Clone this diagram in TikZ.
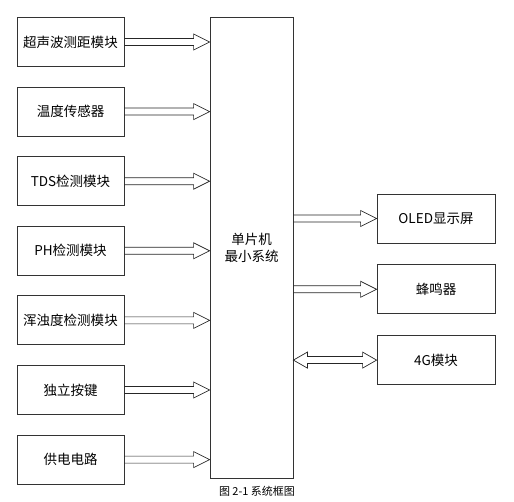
\documentclass[tikz,border=0pt]{standalone}
\usepackage{fontspec}
\setmainfont{Noto Sans CJK SC}
\usepackage{tikz}
\usetikzlibrary{calc,positioning}
\tikzset{%
	module/.style   = {draw=black!80, line width=0.8pt, rectangle, minimum width=107pt, minimum height=49pt, inner sep=0pt, font=\fontsize{13.5}{16}\selectfont},
	outmod/.style   = {module, minimum width=118pt}, % Output
	mcu/.style      = {draw=black!80, line width=0.8pt, rectangle, minimum width=83pt, minimum height=461pt, align=center, font=\fontsize{13.5}{17}\selectfont},
	fat/.style      = {draw=black!85, line width=0.7pt, line join=miter},
}
% hollow block arrow, left to right
\newcommand{\fatarrow}[2]{%
	\draw[fat] let \p1=(#1), \p2=(#2) in
		(\x1,\y1+3.5pt) -- (\x2-16pt,\y1+3.5pt) -- (\x2-16pt,\y1+8pt) -- (\x2,\y1)
		-- (\x2-16pt,\y1-8pt) -- (\x2-16pt,\y1-3.5pt) -- (\x1,\y1-3.5pt);
}
% hollow block arrow, both ends
\newcommand{\dblarrow}[2]{%
	\draw[fat] let \p1=(#1), \p2=(#2) in
		(\x1,\y1) -- (\x1+14pt,\y1+8pt) -- (\x1+14pt,\y1+3.5pt) -- (\x2-14pt,\y1+3.5pt)
		-- (\x2-14pt,\y1+8pt) -- (\x2,\y1) -- (\x2-14pt,\y1-8pt) -- (\x2-14pt,\y1-3.5pt)
		-- (\x1+14pt,\y1-3.5pt) -- (\x1+14pt,\y1-8pt) -- cycle;
}
\begin{document}
\begin{tikzpicture}[x=1pt,y=1pt,node distance=19.8pt]
	\useasboundingbox (0,0) rectangle (514,-502);
	\node [module] (sonar) at (70.5,-42) {超声波测距模块};
	\node [module] (temp) [below=of sonar] {温度传感器};
	\node [module] (tds) [below=of temp] {TDS检测模块};
	\node [module] (ph) [below=of tds] {PH检测模块};
	\node [module] (turb) [below=of ph] {浑浊度检测模块};
	\node [module] (key) [below=of turb] {独立按键};
	\node [module] (power) [below=of key] {供电电路};
	
	\node [mcu] (mcu) at (251.5,-247.5) {单片机\\最小系统};
	
	\node [outmod] (oled) at (436,-218.5) {OLED显示屏};
	\node [outmod] (buzz) [below=21pt of oled] {蜂鸣器};
	\node [outmod] (gsm) [below=21pt of buzz] {4G模块};
	
	\node (cap) at (257,-491) {\fontsize{11}{12}\selectfont 图 2-1 系统框图};
	
	\fatarrow{sonar.east}{mcu.west |- sonar.east}
	\fatarrow{temp.east}{mcu.west |- temp.east}
	\fatarrow{tds.east}{mcu.west |- tds.east}
	\fatarrow{ph.east}{mcu.west |- ph.east}
	\fatarrow{turb.east}{mcu.west |- turb.east}
	\fatarrow{key.east}{mcu.west |- key.east}
	\fatarrow{power.east}{mcu.west |- power.east}
	\fatarrow{mcu.east |- oled.west}{oled.west}
	\fatarrow{mcu.east |- buzz.west}{buzz.west}
	\dblarrow{mcu.east |- gsm.west}{gsm.west}
\end{tikzpicture}
\end{document}
